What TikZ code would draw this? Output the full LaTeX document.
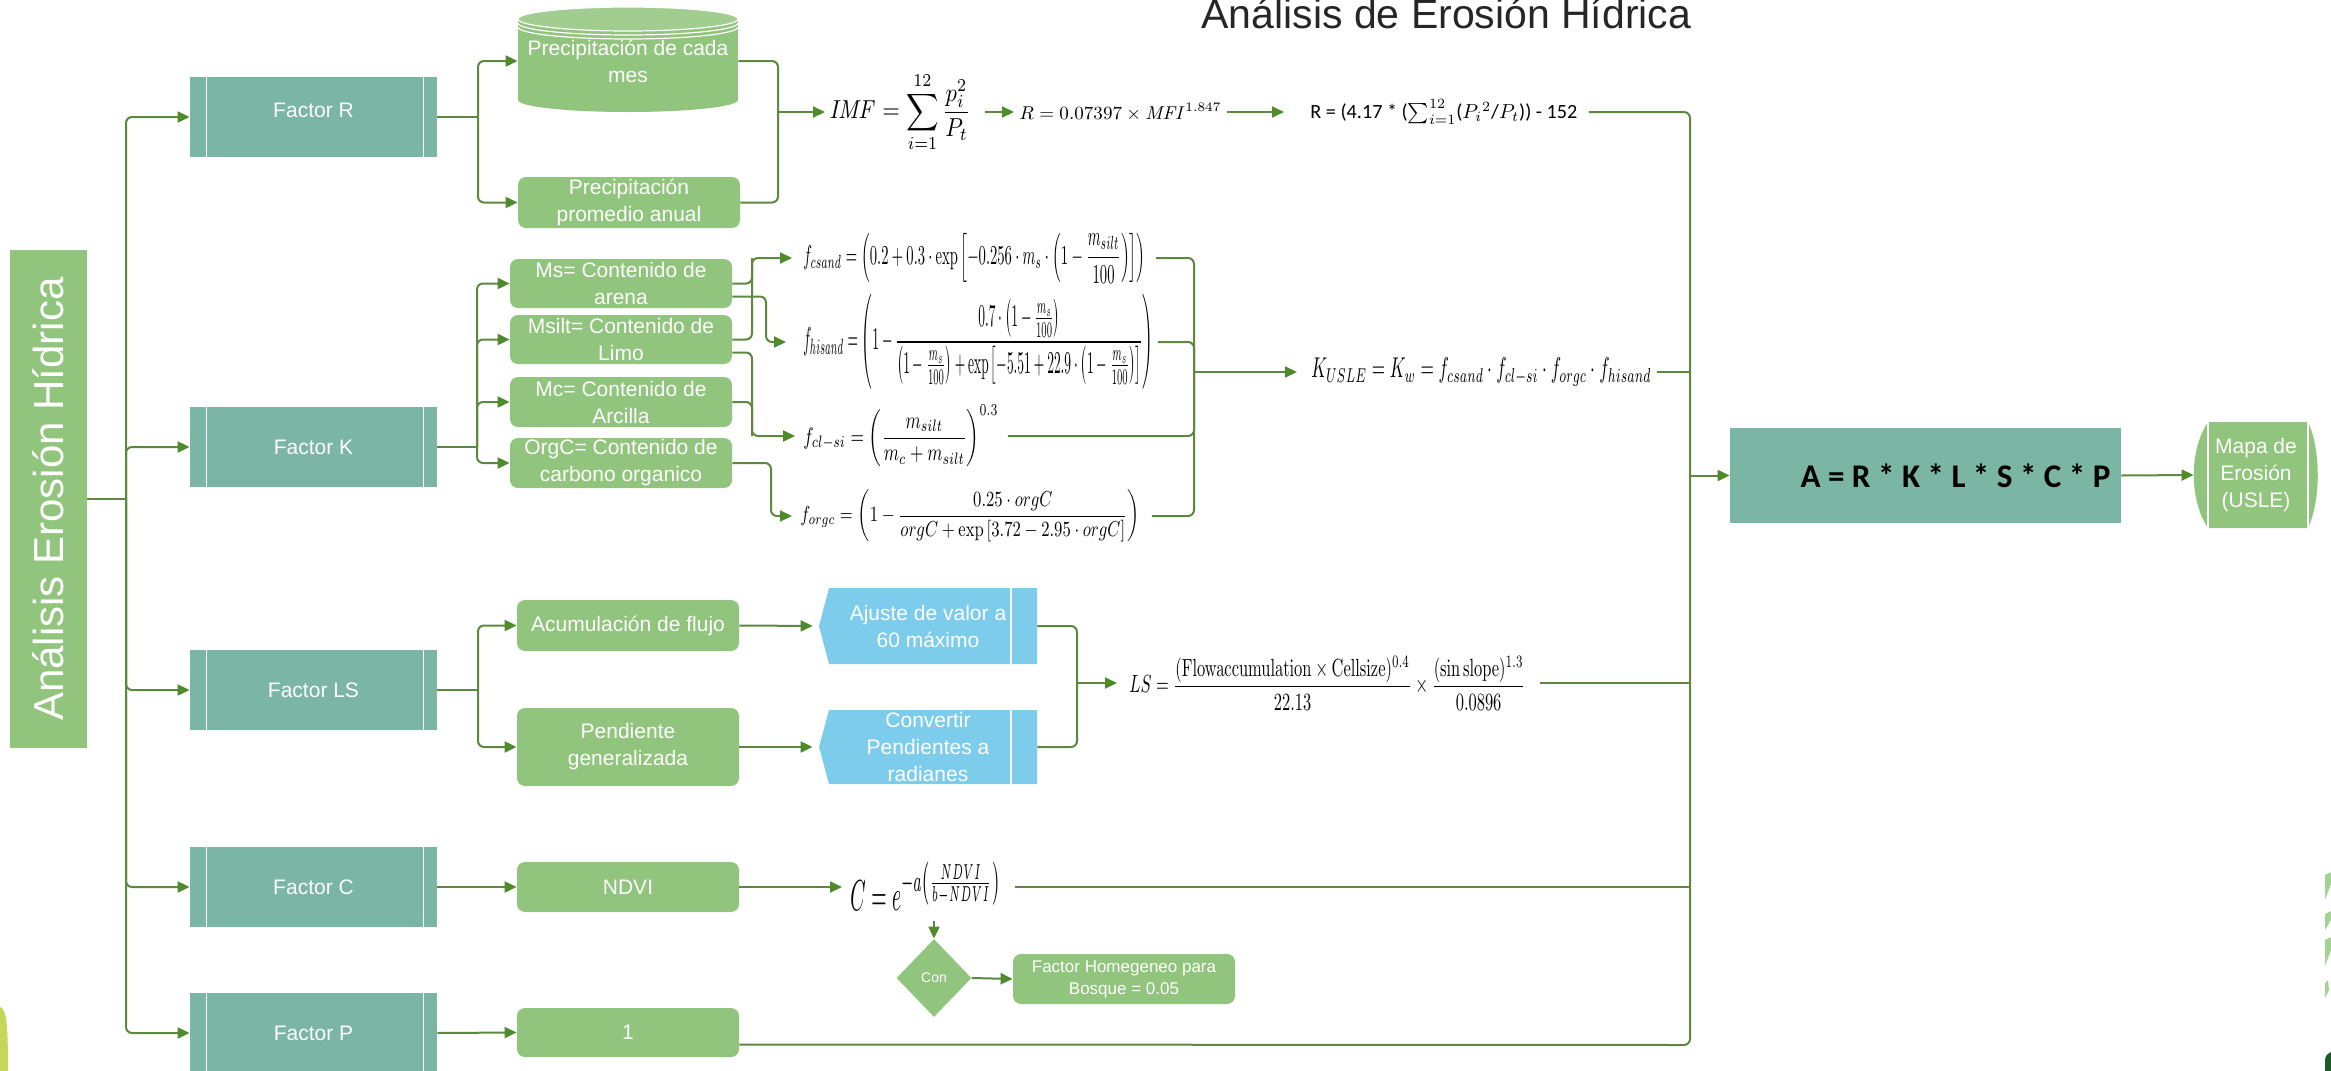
\documentclass[tikz,border=0pt]{standalone}
\usepackage[no-math]{fontspec}
\usepackage{amsmath}
\usepackage{graphicx}
\setmainfont{Liberation Sans}
\newfontfamily\carl{Carlito}
\usetikzlibrary{arrows.meta,shapes.geometric}
\definecolor{lgreen}{HTML}{91C47D}
\definecolor{factorC}{HTML}{7BB5A4}
\definecolor{lblue}{HTML}{7ECCEC}
\definecolor{lineC}{HTML}{5E8840}
\definecolor{arrC}{HTML}{4F8A2B}
\definecolor{ygreen}{HTML}{C6D65A}
\definecolor{dgreen}{HTML}{1D5A2E}
\definecolor{sgreen}{HTML}{A3D391}
\newcommand\labfont{\fontsize{10.5pt}{13.5pt}\selectfont}
\newcommand\fitw[2]{\resizebox{#1}{!}{#2}}
\newcommand\fitwh[3]{\resizebox*{#1}{#2}{#3}}
\tikzset{
 conn/.style={draw=lineC, line width=1pt, rounded corners=3pt},
 arr/.style={conn, -{Triangle[length=6pt,width=5.5pt,color=arrC]}},
 lab/.style={text=white, font=\labfont, align=center, inner sep=0pt},
 fbox/.style={fill=factorC, minimum width=123.5pt, minimum height=40pt, inner sep=0pt, text=white, font=\labfont},
 cbox/.style={fill=lgreen, rounded corners=4pt, minimum width=111pt, inner sep=0pt, text=white, font=\labfont, align=center},
 fml/.style={anchor=west, inner sep=0pt}
}
\begin{document}
\begin{tikzpicture}[x=0.5pt,y=-0.5pt]
\useasboundingbox (0,0) rectangle (2331,1071);
\fill[white] (0,0) rectangle (2331,1071);

% decorations
\fill[ygreen] (0,1007) .. controls (6,1009) and (8,1020) .. (8,1071) -- (0,1071) -- cycle;
\fill[sgreen] (2325,875) -- (2331,872) -- (2331,884) -- (2325,900) -- cycle;
\fill[sgreen] (2325,914) -- (2331,911) -- (2331,920) -- (2325,930) -- cycle;
\fill[sgreen] (2325,940) -- (2331,937) -- (2331,950) -- (2325,966) -- cycle;
\fill[sgreen] (2325,983) -- (2328,980) -- (2329,990) -- (2325,998) -- cycle;
\fill[dgreen] (2325,1060) .. controls (2326,1055) .. (2331,1052) -- (2331,1071) -- (2325,1071) -- cycle;

% title
\node[anchor=base west, inner sep=0pt, text=black!85, font=\fontsize{20.5pt}{24pt}\selectfont] (title) at (1201,28) {Análisis de Erosión Hídrica};

% left box
\node[fill=lgreen, minimum width=38.5pt, minimum height=249pt, inner sep=0pt] (L) at (48.5,499) {};
\node[rotate=90, text=white, inner sep=0pt, font=\fontsize{21pt}{25pt}\selectfont] (Ltxt) at (L.center) {Análisis Erosión Hídrica};

% factor boxes
\node[fbox] (fR) at (313.5,117) {\raisebox{7pt}{Factor R}};
\node[fbox] (fK) at (313.5,447) {Factor K};
\node[fbox] (fLS) at (313.5,690) {Factor LS};
\node[fbox] (fC) at (313.5,887) {Factor C};
\node[fbox] (fP) at (313.5,1033) {Factor P};
\foreach \n in {fR,fK,fLS,fC,fP}{
  \draw[white, line width=0.6pt] ([xshift=8.5pt]\n.north west) -- ([xshift=8.5pt]\n.south west);
  \draw[white, line width=0.6pt] ([xshift=-7pt]\n.north east) -- ([xshift=-7pt]\n.south east);
}

% cylinder
\fill[lgreen] (518,19) rectangle (738,100);
\fill[lgreen] (628,100) ellipse [x radius=110, y radius=12];
\fill[lgreen!85!white] (628,19) ellipse [x radius=110, y radius=12];
\draw[white, line width=0.6pt] (628,19) ellipse [x radius=110, y radius=12];
\draw[white, line width=0.6pt] (518,23) arc [start angle=180, end angle=0, x radius=110, y radius=12];
\draw[white, line width=0.6pt] (518,27) arc [start angle=180, end angle=0, x radius=110, y radius=12];
\node[lab, minimum width=110pt, minimum height=52.5pt] (cyl) at (628,61) {Precipitación de cada\\mes};
\node[cbox, minimum height=25.5pt] (prom) at (629,202.5) {Precipitación\\promedio anual};

% K children
\node[cbox, minimum height=24.5pt] (ms) at (621,283.5) {Ms= Contenido de\\arena};
\node[cbox, minimum height=24.5pt] (msilt) at (621,339.5) {Msilt= Contenido de\\Limo};
\node[cbox, minimum height=25pt] (mc) at (621,402) {Mc= Contenido de\\Arcilla};
\node[cbox, minimum height=25pt] (orgc) at (621,463) {OrgC= Contenido de\\carbono organico};

% LS, C, P children
\node[cbox, minimum height=25.5pt] (acum) at (628,625.5) {Acumulación de flujo};
\node[cbox, minimum height=39pt] (pend) at (628,747) {Pendiente\\generalizada};
\node[cbox, minimum height=25pt] (ndvi) at (628,887) {NDVI};
\node[cbox, minimum height=24.5pt] (one) at (628,1032.5) {1};

% blue shapes
\fill[lblue] (829,588) -- (1037,588) -- (1037,664) -- (829,664) -- (819,626) -- cycle;
\draw[white, line width=0.6pt] (1011,588) -- (1011,664);
\node[lab, minimum width=109pt, minimum height=38pt] (aj) at (928,626) {Ajuste de valor a\\60 máximo};
\fill[lblue] (829,710) -- (1037,710) -- (1037,784) -- (829,784) -- (819,747) -- cycle;
\draw[white, line width=0.6pt] (1011,710) -- (1011,784);
\node[lab, minimum width=109pt, minimum height=37pt] (cv) at (928,747) {Convertir\\Pendientes a\\radianes};

% formulas R
\node[fml] (imf) at (829,112) {\fitwh{70.5pt}{40pt}{$\displaystyle \mathit{IMF} = \sum_{i=1}^{12}\frac{p_i^2}{P_t}$}};
\node[fml] (r1) at (1019,112) {\fitwh{101pt}{9pt}{$R = 0.07397 \times \mathit{MFI}^{1.847}$}};
\node[fml] (r2) at (1310,112) {\fitw{133.5pt}{\carl R = (4.17 * ($\sum_{i=1}^{12}$($P_i{}^{2}$/$P_t$)) - 152}};

% formulas K
\node[fml] (fcs) at (803,258) {\fitwh{171pt}{25pt}{$\displaystyle f_{csand} = \left(0.2+0.3\cdot\exp\left[-0.256\cdot m_s\cdot\left(1-\frac{m_{silt}}{100}\right)\right]\right)$}};
\node[fml] (fhs) at (803,342) {\fitwh{175pt}{47.5pt}{$\displaystyle f_{hisand} = \left(1-\frac{0.7\cdot\left(1-\frac{m_s}{100}\right)}{\left(1-\frac{m_s}{100}\right)+\exp\left[-5.51+22.9\cdot\left(1-\frac{m_s}{100}\right)\right]}\right)$}};
\node[fml] (fcl) at (803,436) {\fitwh{97.5pt}{31pt}{$\displaystyle f_{cl-si} = \left(\frac{m_{silt}}{m_c+m_{silt}}\right)^{0.3}$}};
\node[fml] (forg) at (800,516) {\fitwh{169.5pt}{26pt}{$\displaystyle f_{orgc} = \left(1-\frac{0.25\cdot orgC}{orgC+\exp\left[3.72-2.95\cdot orgC\right]}\right)$}};
\node[fml] (kusle) at (1311,372) {\fitwh{170pt}{14pt}{$K_{USLE} = K_w = f_{csand}\cdot f_{cl-si}\cdot f_{orgc}\cdot f_{hisand}$}};

% formula LS and C
\node[fml] (ls) at (1129,683) {\fitwh{198pt}{27pt}{$\displaystyle LS = \frac{(\mathrm{Flowaccumulation}\times\mathrm{Cellsize})^{0.4}}{22.13}\times\frac{(\sin\mathrm{slope})^{1.3}}{0.0896}$}};
\node[fml] (cf) at (850,886) {\fitwh{75pt}{24pt}{$C = e^{-a\left(\frac{NDVI}{b-NDVI}\right)}$}};

% diamond and forest factor
\node[diamond, fill=lgreen, minimum width=37.5pt, minimum height=39pt, inner sep=0pt, text=white, font=\fontsize{7pt}{9pt}\selectfont] (con) at (934,978) {Con};
\node[cbox, minimum height=25pt, font=\fontsize{8.5pt}{11pt}\selectfont] (fh) at (1124,979) {Factor Homegeneo para\\Bosque = 0.05};

% result boxes
\node[fill=factorC, minimum width=195.5pt, minimum height=47.5pt, inner sep=0pt] (A) at (1925.5,475.5) {\hspace*{30pt}\fitw{155pt}{\carl\bfseries A = R * K * L * S * C * P}};
\fill[lgreen] (2208,422) -- (2308,422) .. controls (2321,450) and (2321,500) .. (2308,528) -- (2208,528) .. controls (2189,500) and (2189,450) .. (2208,422) -- cycle;
\draw[white, line width=0.6pt] (2208,422) -- (2208,528) (2308,422) -- (2308,528);
\node[lab, minimum width=62pt, minimum height=53pt] (mapa) at (2256,475) {Mapa de\\Erosión\\(USLE)};

% ---------- connectors ----------
\coordinate (tr) at (126,499);
\draw[conn] (L.east) -- (tr);
\foreach \n in {fR,fK,fLS,fC,fP} \draw[arr] (tr) |- (\n.west);

% R
\coordinate (bR) at (478,117);
\draw[conn] (fR.east) -- (bR);
\draw[arr] (bR) |- (cyl.west);
\draw[arr] (bR) |- (prom.west);
\coordinate (mR) at (778,112);
\draw[conn] (cyl.east) -| (mR);
\draw[conn] (prom.east) -| (mR);
\draw[arr, shorten >=2pt] (mR) -- (imf.west);
\draw[arr, shorten <=7pt, shorten >=2.5pt] (imf.east) -- (r1.west);
\draw[arr, shorten <=2.5pt, shorten >=13pt] (r1.east) -- (r2.west);

% K
\coordinate (bK) at (477,447);
\draw[conn] (fK.east) -- (bK);
\foreach \n in {ms,msilt,mc,orgc} \draw[arr] (bK) |- (\n.west);
\coordinate (vA) at (752,258);
\coordinate (vB) at (766,342);
\coordinate (vC) at (752,436);
\coordinate (vD) at (771,516);
\draw[arr, shorten >=5.5pt] (ms.east) -| (vA) -- (fcs.west);
\draw[conn] (msilt.east) -| (vA);
\draw[arr, shorten >=8.5pt] ([yshift=-6.5pt]ms.east) -| (vB) -- (fhs.west);
\draw[arr, shorten >=4pt] ([yshift=-6.5pt]msilt.east) -| (vC) -- (fcl.west);
\draw[conn] (mc.east) -| (vC);
\draw[arr, shorten >=4pt] (orgc.east) -| (vD) -- (forg.west);
\coordinate (kc) at (1194,372);
\draw[conn, shorten <=5pt] (fcs.east) -| (kc);
\draw[conn, shorten <=2pt] (fhs.east) -| (kc);
\draw[conn, shorten <=4.5pt] (fcl.east) -| (kc);
\draw[conn, shorten <=6pt] (forg.east) -| (kc);
\draw[arr, shorten >=7pt] (kc) -- (kusle.west);

% LS
\coordinate (bLS) at (478,690);
\draw[conn] (fLS.east) -- (bLS);
\draw[arr] (bLS) |- (acum.west);
\draw[arr] (bLS) |- (pend.west);
\draw[arr, shorten >=3pt] (acum.east) -- (aj.west);
\draw[arr, shorten >=3pt] (pend.east) -- (cv.west);
\coordinate (mLS) at (1077,683);
\draw[conn] (aj.east) -| (mLS);
\draw[conn] (cv.east) -| (mLS);
\draw[arr, shorten >=6pt] (mLS) -- (ls.west);

% C and P
\draw[arr] (fC.east) -- (ndvi.west);
\draw[arr, shorten >=4pt] (ndvi.east) -- (ndvi.east -| cf.west);
\coordinate (cdown) at (934,921);
\draw[arr] (cdown) -- (con.north);
\draw[arr] (con.east) -- (fh.west);
\draw[arr] (fP.east) -- (one.west);

% collector
\coordinate (cTop) at (1690,112);
\coordinate (cBot) at (1690,1045);
\draw[conn, shorten <=5.5pt] (r2.east) -- (cTop) -- (cBot) -- ([yshift=-6pt]one.east);
\draw[conn, shorten <=2.5pt] (kusle.east) -- (kusle.east -| cTop);
\draw[conn, shorten <=7pt] (ls.east) -- (ls.east -| cTop);
\draw[conn, shorten <=7pt] (ndvi.east -| cf.east) -- (ndvi.east -| cTop);
\draw[arr] (A.west -| cTop) -- (A.west);
\draw[arr] (A.east) -- (mapa.west);
\end{tikzpicture}
\end{document}
